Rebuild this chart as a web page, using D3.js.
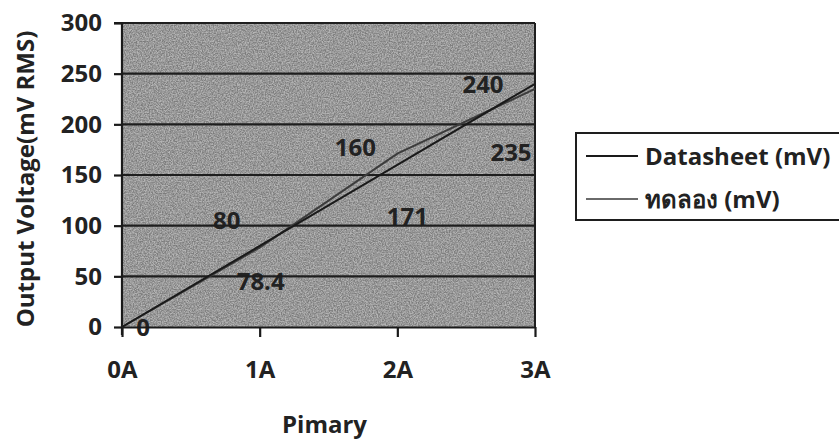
<!DOCTYPE html>
<html>
<head>
<meta charset="utf-8">
<script src="https://cdn.jsdelivr.net/npm/d3@7"></script>
<style>
  html, body { margin: 0; padding: 0; background: #fff; }
  svg { display: block; }
  text { font-family: "Open Sans", "Noto Sans", "DejaVu Sans", sans-serif; font-weight: bold; fill: #222; }
</style>
</head>
<body>
<svg id="chart" width="839" height="439"></svg>
<script>
// Primary current categories and measured output voltages
const categories = ["0A", "1A", "2A", "3A"];
const datasheet = [0, 80, 160, 240];
const measured = [0, 78.4, 171, 235];
const yTicks = [0, 50, 100, 150, 200, 250, 300];
const seriesNames = ["Datasheet (mV)", "ทดลอง (mV)"];

// Pixel nudges for each data label, [dx, dy] from its point
const datasheetLabelShift = [[21, 0], [-33, -26], [-42, -18], [-52, 1]];
const measuredLabelShift = [null, [1, 34], [10, 63], [-24, 63]];

const FONT = 24;
const svg = d3.select("#chart");
const plot = { left: 122, right: 535, top: 23, bottom: 327 };

const x = d3.scalePoint().domain(categories).range([plot.left, plot.right]);
const y = d3.scaleLinear().domain([0, 300]).range([plot.bottom, plot.top]);

// grain texture for the plot fill
const defs = svg.append("defs");
const grain = defs.append("filter").attr("id", "grain")
  .attr("x", 0).attr("y", 0).attr("width", 1).attr("height", 1)
  .attr("color-interpolation-filters", "sRGB");
grain.append("feTurbulence").attr("type", "fractalNoise")
  .attr("baseFrequency", 0.75).attr("numOctaves", 3).attr("seed", 4).attr("result", "n");
grain.append("feColorMatrix").attr("in", "n").attr("type", "saturate").attr("values", 0).attr("result", "g");
const ct = grain.append("feComponentTransfer").attr("in", "g");
["feFuncR", "feFuncG", "feFuncB"].forEach(f =>
  ct.append(f).attr("type", "linear").attr("slope", 3).attr("intercept", -1));
ct.append("feFuncA").attr("type", "linear").attr("slope", 0).attr("intercept", 1);

svg.append("rect")
  .attr("x", plot.left).attr("y", plot.top)
  .attr("width", plot.right - plot.left).attr("height", plot.bottom - plot.top)
  .attr("fill", "#a0a0a0");
svg.append("rect")
  .attr("x", plot.left).attr("y", plot.top)
  .attr("width", plot.right - plot.left).attr("height", plot.bottom - plot.top)
  .attr("fill", "#888").attr("filter", "url(#grain)").attr("opacity", 0.22);

// data labels (sit beneath the gridlines)
const labelG = svg.append("g").attr("font-size", FONT).attr("text-anchor", "middle");
function addLabels(values, shifts) {
  values.forEach((v, i) => {
    if (!shifts[i]) return;
    labelG.append("text")
      .attr("x", x(categories[i]) + shifts[i][0])
      .attr("y", y(v) + shifts[i][1])
      .attr("dy", "0.36em")
      .text(v);
  });
}
addLabels(datasheet, datasheetLabelShift);
addLabels(measured, measuredLabelShift);

// horizontal gridlines
svg.append("g")
  .selectAll("line").data(yTicks.filter(d => d > 0)).join("line")
  .attr("x1", plot.left).attr("x2", plot.right)
  .attr("y1", d => y(d)).attr("y2", d => y(d))
  .attr("stroke", "#1e1e1e").attr("stroke-width", 2.2);

// right border
svg.append("line")
  .attr("x1", plot.right).attr("x2", plot.right)
  .attr("y1", plot.top).attr("y2", plot.bottom)
  .attr("stroke", "#1e1e1e").attr("stroke-width", 2);

// axes
const yAxis = svg.append("g")
  .attr("transform", `translate(${plot.left},0)`)
  .call(d3.axisLeft(y).tickValues(yTicks).tickSize(8).tickPadding(12));
const xAxis = svg.append("g")
  .attr("transform", `translate(0,${plot.bottom})`)
  .call(d3.axisBottom(x).tickSize(10).tickPadding(24).tickSizeOuter(0));
[yAxis, xAxis].forEach(a => {
  a.attr("font-family", null).attr("font-size", null);
  a.select(".domain").attr("stroke", "#1a1a1a").attr("stroke-width", 2.2);
  a.selectAll(".tick line").attr("stroke", "#1a1a1a").attr("stroke-width", 2.2);
  a.selectAll(".tick text").attr("font-size", FONT).attr("fill", "#222");
});
yAxis.select(".domain").attr("d", `M-8,${plot.top}H0V${plot.bottom + 8}`);

// series lines
const line = d3.line().x((d, i) => x(categories[i])).y(d => y(d));
svg.append("path").datum(measured)
  .attr("d", line).attr("fill", "none")
  .attr("stroke", "#3c3c3c").attr("stroke-width", 2);
svg.append("path").datum(datasheet)
  .attr("d", line).attr("fill", "none")
  .attr("stroke", "#1a1a1a").attr("stroke-width", 2);

// axis titles
svg.append("text")
  .attr("x", (plot.left + plot.right) / 2 - 4).attr("y", 433)
  .attr("text-anchor", "middle").attr("font-size", FONT)
  .text("Pimary");
svg.append("text")
  .attr("transform", `translate(34,${(plot.top + plot.bottom) / 2 + 4}) rotate(-90)`)
  .attr("text-anchor", "middle").attr("font-size", FONT)
  .text("Output Voltage(mV RMS)");

// legend
const legend = svg.append("g");
legend.append("rect")
  .attr("x", 576).attr("y", 133).attr("width", 300).attr("height", 87)
  .attr("fill", "#fff").attr("stroke", "#1e1e1e").attr("stroke-width", 2);
const legendColors = ["#1a1a1a", "#6a6a6a"];
seriesNames.forEach((name, i) => {
  const ly = 156 + i * 43;
  legend.append("line")
    .attr("x1", 586).attr("x2", 638).attr("y1", ly).attr("y2", ly)
    .attr("stroke", legendColors[i]).attr("stroke-width", 2);
  legend.append("text")
    .attr("x", 645).attr("y", ly).attr("dy", "0.36em")
    .attr("font-size", FONT).text(name);
});
</script>
</body>
</html>
